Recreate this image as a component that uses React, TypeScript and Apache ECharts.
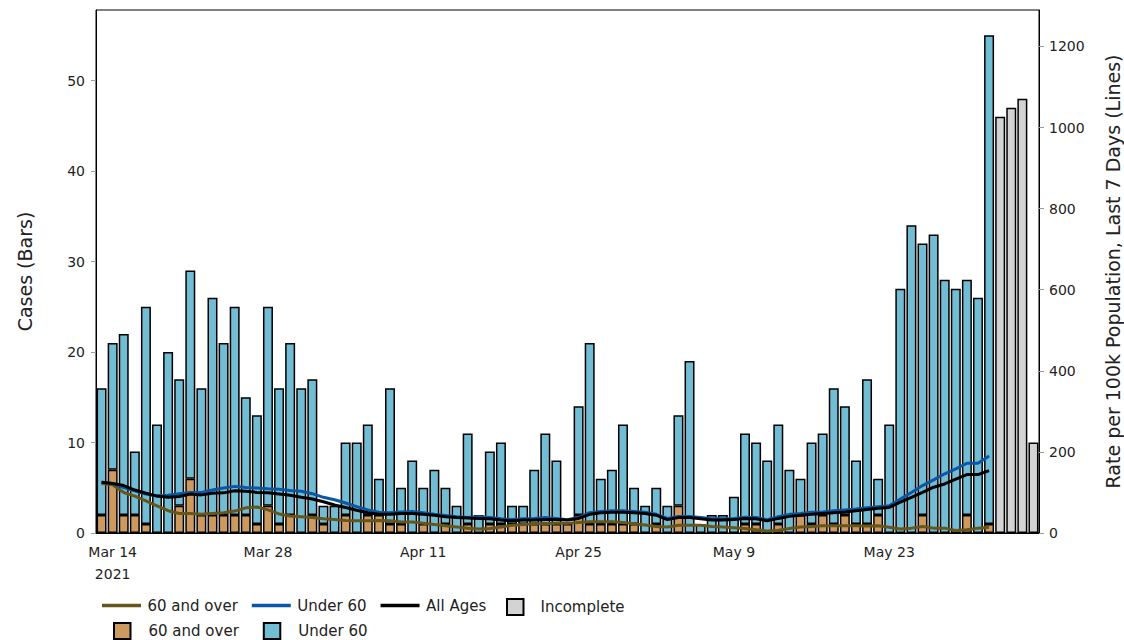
import React, { useEffect, useRef } from "react";
import * as echarts from "echarts";

const dates = [
  "Mar 13", "Mar 14", "Mar 15", "Mar 16", "Mar 17", "Mar 18", "Mar 19", "Mar 20", "Mar 21", "Mar 22",
  "Mar 23", "Mar 24", "Mar 25", "Mar 26", "Mar 27", "Mar 28", "Mar 29", "Mar 30", "Mar 31",
  "Apr 1", "Apr 2", "Apr 3", "Apr 4", "Apr 5", "Apr 6", "Apr 7", "Apr 8", "Apr 9", "Apr 10",
  "Apr 11", "Apr 12", "Apr 13", "Apr 14", "Apr 15", "Apr 16", "Apr 17", "Apr 18", "Apr 19", "Apr 20",
  "Apr 21", "Apr 22", "Apr 23", "Apr 24", "Apr 25", "Apr 26", "Apr 27", "Apr 28", "Apr 29", "Apr 30",
  "May 1", "May 2", "May 3", "May 4", "May 5", "May 6", "May 7", "May 8", "May 9", "May 10",
  "May 11", "May 12", "May 13", "May 14", "May 15", "May 16", "May 17", "May 18", "May 19", "May 20",
  "May 21", "May 22", "May 23", "May 24", "May 25", "May 26", "May 27", "May 28", "May 29", "May 30",
  "May 31", "Jun 1", "Jun 2", "Jun 3", "Jun 4", "Jun 5",
];

// Daily cases, 60 and over (bars)
const cases60Plus = [
  2, 7, 2, 2, 1, 0, 0, 3, 6, 2,
  2, 2, 2, 2, 1, 3, 1, 2, 0, 2,
  1, 0, 2, 0, 2, 2, 1, 1, 0, 1,
  0, 1, 0, 1, 0, 1, 1, 1, 1, 1,
  1, 1, 1, 2, 1, 1, 1, 1, 1, 0,
  1, 0, 3, 0, 0, 0, 0, 0, 1, 1,
  0, 1, 0, 2, 1, 2, 1, 2, 1, 1,
  2, 0, 0, 0, 2, 0, 0, 0, 2, 0,
  1,
];

// Daily cases, under 60 (bars)
const casesUnder60 = [
  14, 14, 20, 7, 24, 12, 20, 14, 23, 14,
  24, 19, 23, 13, 12, 22, 15, 19, 16, 15,
  2, 3, 8, 10, 10, 4, 15, 4, 8, 4,
  7, 4, 3, 10, 2, 8, 9, 2, 2, 6,
  10, 7, 0, 12, 20, 5, 6, 11, 4, 3,
  4, 3, 10, 19, 1, 2, 2, 4, 10, 9,
  8, 11, 7, 4, 9, 9, 15, 12, 7, 16,
  4, 12, 27, 34, 30, 33, 28, 27, 26, 26,
  54,
];

// Incomplete days (last four bars)
const casesIncomplete = [46, 47, 48, 10];

// Rate per 100k population, last 7 days (lines)
const rate60Plus = [
  122, 119, 100, 91, 79, 67, 55, 48, 48, 46,
  48, 50, 54, 62, 64, 57, 47, 42, 40, 38,
  35, 33, 31, 30, 30, 31, 30, 27, 27, 24,
  21, 18, 15, 12, 10, 11, 15, 19, 21, 23,
  23, 24, 24, 26, 28, 28, 28, 26, 23, 20,
  16, 15, 19, 19, 19, 16, 15, 13, 11, 8,
  5, 7, 11, 15, 16, 18, 18, 18, 18, 17,
  18, 14, 10, 12, 16, 12, 12, 6, 8, 12,
  14,
];
const rateUnder60 = [
  125, 122, 112, 104, 96, 91, 93, 97, 100, 100,
  106, 111, 115, 112, 111, 109, 108, 105, 103, 97,
  88, 82, 74, 65, 57, 51, 50, 52, 53, 50,
  46, 43, 40, 38, 40, 38, 35, 33, 35, 36,
  38, 36, 33, 38, 50, 53, 55, 55, 53, 51,
  46, 36, 41, 41, 38, 35, 35, 36, 39, 38,
  33, 40, 46, 48, 51, 52, 55, 57, 59, 62,
  65, 67, 84, 100, 117, 131, 146, 158, 172, 172,
  190,
];
const rateAllAges = [
  125, 122, 117, 106, 98, 91, 88, 90, 96, 94,
  98, 99, 104, 103, 100, 99, 96, 93, 88, 84,
  77, 69, 63, 56, 50, 46, 46, 48, 48, 46,
  44, 40, 38, 37, 36, 35, 32, 30, 32, 32,
  33, 33, 32, 36, 46, 50, 51, 51, 50, 48,
  44, 33, 38, 38, 35, 32, 32, 33, 36, 35,
  30, 36, 41, 44, 46, 48, 50, 52, 55, 58,
  61, 63, 76, 88, 100, 113, 121, 133, 144, 144,
  154,
];

const leftTicks = [0, 10, 20, 30, 40, 50];
const rightTicks = [0, 200, 400, 600, 800, 1000, 1200];
const dateTickIdx = [1, 15, 29, 43, 57, 71];

const FONT = "DejaVu Sans";
const TAN = "#cc9a5e";
const LIGHTBLUE = "#72bcd4";
const GREY = "#d3d3d3";
const OLIVE = "#66561c";
const BLUE = "#0b57a4";
const LINE_ICON = "path://M0 0H39V3.5H0Z";

export default function App() {
  const ref = useRef<HTMLDivElement>(null);

  useEffect(() => {
    const chart = echarts.init(ref.current!, null, { renderer: "svg" });
    const nComplete = cases60Plus.length;
    const nz = (v: number) => (v === 0 ? "-" : v);
    const bar60 = dates.map((_, i) => (i < nComplete ? nz(cases60Plus[i]) : "-"));
    const barU60 = dates.map((_, i) => (i < nComplete ? nz(casesUnder60[i]) : "-"));
    const barInc = dates.map((_, i) => (i >= nComplete ? casesIncomplete[i - nComplete] : "-"));

    const barBorder = { borderColor: "#000", borderWidth: 1.5 };
    const textBase = { fontFamily: FONT, color: "#222" };
    const legendText = { ...textBase, fontSize: 15 };

    const option: any = {
      animation: false,
      backgroundColor: "#fff",
      grid: {
        left: 96,
        right: 85,
        top: 10,
        bottom: 107,
        show: true,
        borderColor: "#000",
        borderWidth: 1,
        backgroundColor: "transparent",
        outerBoundsMode: "none",
        containLabel: false,
      },
      legend: [
        {
          data: ["60 and over", "Under 60", "All Ages"],
          left: 102,
          top: 598,
          padding: 0,
          itemWidth: 39,
          itemHeight: 16,
          itemGap: 14,
          icon: LINE_ICON,
          selectedMode: false,
          textStyle: { ...legendText, padding: [0, 0, 0, 1.5] },
        },
        {
          data: ["Incomplete"],
          left: 506,
          top: 598,
          padding: 0,
          itemWidth: 16.5,
          itemHeight: 16,
          icon: "rect",
          selectedMode: false,
          textStyle: { ...legendText, padding: [0, 0, 0, 12] },
        },
        {
          data: ["60 and over (bars)", "Under 60 (bars)"],
          left: 113,
          top: 622,
          padding: 0,
          itemWidth: 16.5,
          itemHeight: 16,
          itemGap: 24,
          icon: "rect",
          selectedMode: false,
          formatter: (name: string) => name.replace(" (bars)", ""),
          textStyle: { ...legendText, padding: [0, 0, 0, 13] },
        },
      ],
      xAxis: {
        type: "category",
        data: dates,
        boundaryGap: true,
        axisLine: { lineStyle: { color: "#000", width: 1 } },
        axisTick: {
          alignWithLabel: true,
          interval: (i: number) => dateTickIdx.includes(i),
          length: 6,
          lineStyle: { color: "#999" },
        },
        axisLabel: {
          interval: (i: number) => dateTickIdx.includes(i),
          formatter: (v: string, i: number) => (i === 1 ? v + "\n2021" : v),
          ...textBase,
          fontSize: 14,
          lineHeight: 22,
          margin: 8,
        },
        splitLine: { show: false },
      },
      yAxis: [
        {
          type: "value",
          position: "left",
          min: 0,
          max: 57.8,
          interval: 10,
          name: "Cases (Bars)",
          nameLocation: "middle",
          nameGap: 62,
          nameTextStyle: { ...textBase, fontSize: 19 },
          axisLine: { show: true, lineStyle: { color: "#000" } },
          axisTick: { show: true, length: 5, lineStyle: { color: "#999" }, customValues: leftTicks },
          axisLabel: {
            customValues: leftTicks,
            ...textBase,
            fontSize: 14,
            margin: 11,
            formatter: (v: number) => (leftTicks.includes(v) ? String(v) : ""),
          },
          splitLine: { show: false },
        },
        {
          type: "value",
          position: "right",
          min: 0,
          max: 1290,
          interval: 200,
          name: "Rate per 100k Population, Last 7 Days (Lines)",
          nameLocation: "middle",
          nameGap: 64,
          nameTextStyle: { ...textBase, fontSize: 19 },
          axisLine: { show: true, lineStyle: { color: "#000" } },
          axisTick: { show: true, length: 5, lineStyle: { color: "#999" }, customValues: rightTicks },
          axisLabel: {
            customValues: rightTicks,
            ...textBase,
            fontSize: 14,
            margin: 10,
            formatter: (v: number) => (rightTicks.includes(v) ? String(v) : ""),
          },
          splitLine: { show: false },
        },
      ],
      series: [
        {
          name: "60 and over (bars)",
          type: "bar",
          stack: "cases",
          yAxisIndex: 0,
          barCategoryGap: "10%",
          itemStyle: { color: TAN, ...barBorder },
          data: bar60,
        },
        {
          name: "Under 60 (bars)",
          type: "bar",
          stack: "cases",
          yAxisIndex: 0,
          barCategoryGap: "10%",
          itemStyle: { color: LIGHTBLUE, ...barBorder },
          data: barU60,
        },
        {
          name: "Incomplete",
          type: "bar",
          stack: "cases",
          yAxisIndex: 0,
          barCategoryGap: "10%",
          itemStyle: { color: GREY, ...barBorder },
          data: barInc,
        },
        {
          name: "60 and over",
          type: "line",
          yAxisIndex: 1,
          symbol: "none",
          showSymbol: false,
          z: 5,
          lineStyle: { color: OLIVE, width: 3 },
          itemStyle: { color: OLIVE, borderWidth: 0 },
          data: rate60Plus,
        },
        {
          name: "Under 60",
          type: "line",
          yAxisIndex: 1,
          symbol: "none",
          showSymbol: false,
          z: 6,
          lineStyle: { color: BLUE, width: 3 },
          itemStyle: { color: BLUE, borderWidth: 0 },
          data: rateUnder60,
        },
        {
          name: "All Ages",
          type: "line",
          yAxisIndex: 1,
          symbol: "none",
          showSymbol: false,
          z: 7,
          lineStyle: { color: "#000", width: 3 },
          itemStyle: { color: "#000", borderWidth: 0 },
          data: rateAllAges,
        },
      ],
    };

    chart.setOption(option);
    return () => chart.dispose();
  }, []);

  return (
    <div
      ref={ref}
      style={{ position: "fixed", left: 0, top: 0, width: 1124, height: 640, background: "#fff" }}
    />
  );
}
